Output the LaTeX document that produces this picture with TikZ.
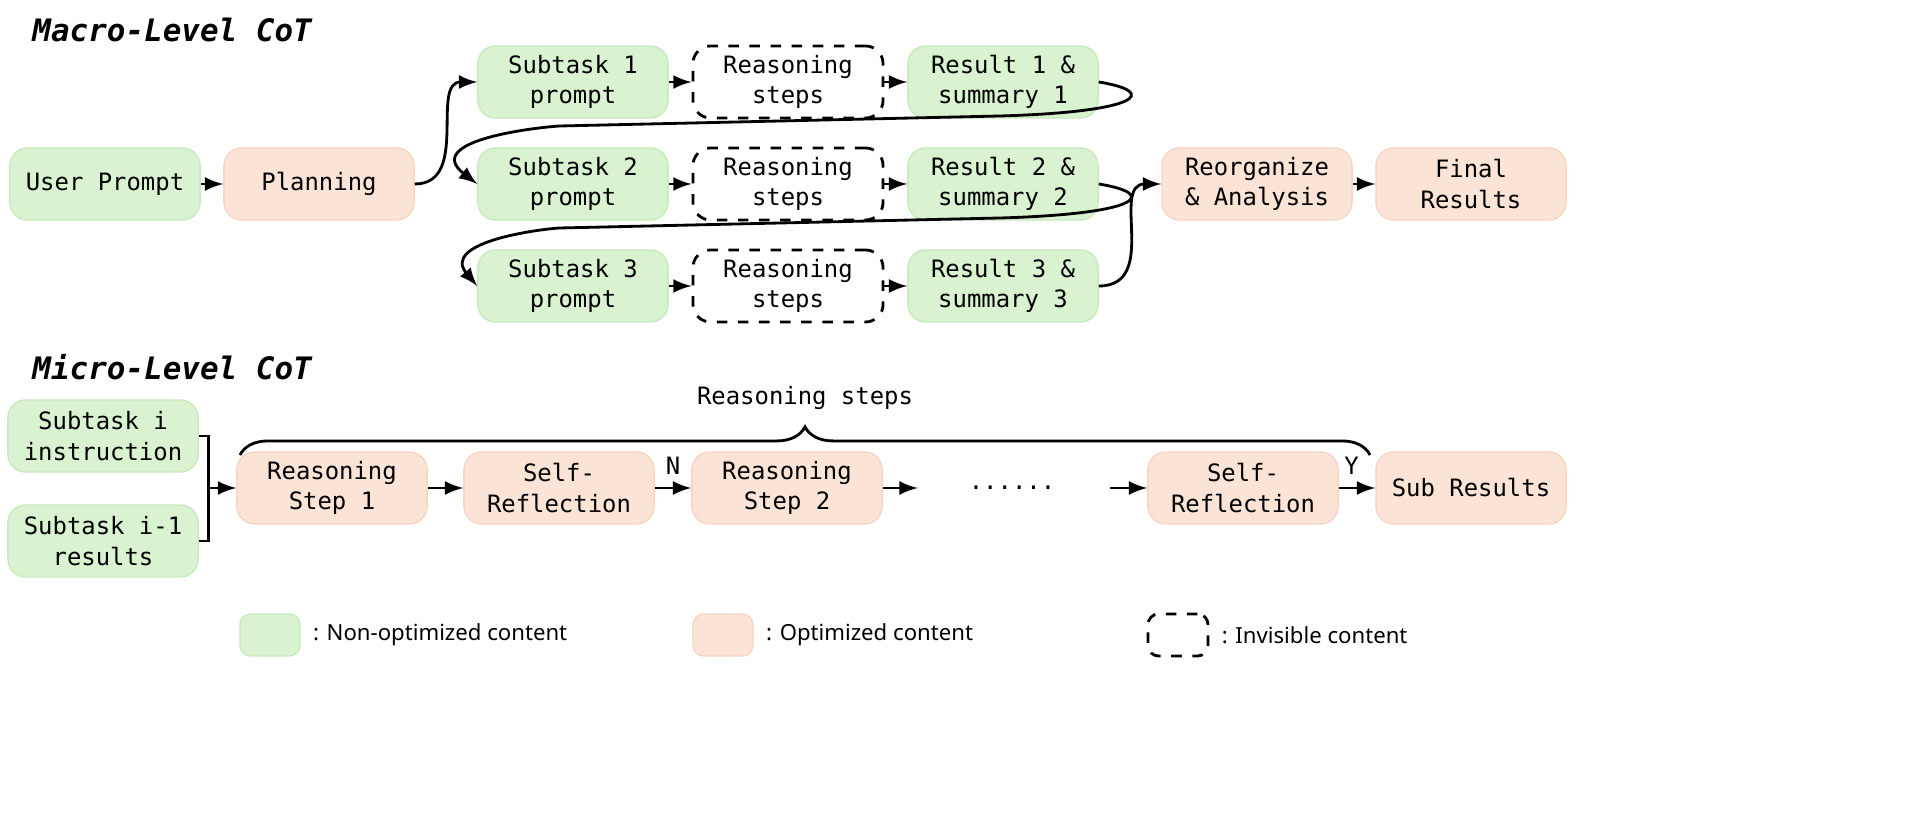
\documentclass[tikz,border=0pt]{standalone}
\usepackage{fontspec}
\setmainfont{Noto Sans}
\newfontfamily\boxfont{DejaVu Sans Mono}
\usetikzlibrary{positioning,decorations.pathreplacing}
\definecolor{nonopt}{HTML}{D9F2D0}
\definecolor{nonoptline}{HTML}{C8EABD}
\definecolor{opt}{HTML}{FBE3D6}
\definecolor{optline}{HTML}{F6D5C4}
\tikzset{
  box/.style = {rounded corners=5pt, minimum width=1.9cm, minimum height=0.72cm,
                align=center, font=\boxfont\fontsize{6.8}{8.6}\selectfont, inner sep=1pt},
  green box/.style = {box, fill=nonopt, draw=nonoptline},
  orange box/.style = {box, fill=opt, draw=optline},
  hidden box/.style = {box, draw=black, thick, dashed},
  flow/.style = {-latex, thick},
  title/.style = {anchor=west, font=\boxfont\bfseries\itshape\fontsize{8.8}{10}\selectfont},
  legend/.style = {anchor=west, font=\fontsize{6.3}{7.5}\selectfont}
}
\begin{document}
\begin{tikzpicture}[x=0.01cm, y=-0.01cm]
\useasboundingbox (0,0) rectangle (1920,813);

% macro level
\node[title] at (20,30) {Macro-Level CoT};
\node[green box] (user) at (105,184) {User Prompt};
\node[orange box] (plan) at (319,184) {Planning};

\node[green box] (sub1) at (573,82) {Subtask 1\\prompt};
\node[hidden box] (rea1) at (788,82) {Reasoning\\steps};
\node[green box] (res1) at (1003,82) {Result 1 \&\\summary 1};

\node[green box] (sub2) at (573,184) {Subtask 2\\prompt};
\node[hidden box] (rea2) at (788,184) {Reasoning\\steps};
\node[green box] (res2) at (1003,184) {Result 2 \&\\summary 2};

\node[green box] (sub3) at (573,286) {Subtask 3\\prompt};
\node[hidden box] (rea3) at (788,286) {Reasoning\\steps};
\node[green box] (res3) at (1003,286) {Result 3 \&\\summary 3};

\node[orange box] (reorg) at (1257,184) {Reorganize\\\& Analysis};
\node[orange box] (final) at (1471,184) {Final\\Results};

\draw[flow] (user) -- (plan);
\draw[flow] (plan.east) .. controls (470,184) and (430,82) .. (sub1.west);
\foreach \i in {1,2,3}{
  \draw[flow] (sub\i) -- (rea\i);
  \draw[flow] (rea\i) -- (res\i);
}
\draw[flow] (res1.east) .. controls (1160,92) and (1140,112) .. (1000,116)
  -- (560,126) .. controls (540,127) and (420,140) .. (sub2.west);
\draw[flow] (res2.east) .. controls (1160,194) and (1140,214) .. (1000,218)
  -- (560,228) .. controls (540,229) and (440,242) .. (sub3.west);
\draw[flow] (res3.east) .. controls (1160,286) and (1110,184) .. (reorg.west);
\draw[flow] (reorg) -- (final);

% micro level
\node[title] at (20,367) {Micro-Level CoT};
\node[green box] (inst) at (103,436) {Subtask i\\instruction};
\node[green box] (prev) at (103,541) {Subtask i-1\\results};
\node[orange box] (step1) at (332,488) {Reasoning\\Step 1};
\node[orange box] (refl1) at (559,488) {Self-\\Reflection};
\node[orange box] (step2) at (787,488) {Reasoning\\Step 2};
\node[box] (dots) at (1012,488) {......};
\node[orange box] (refl2) at (1243,488) {Self-\\Reflection};
\node[orange box] (subres) at (1471,488) {Sub Results};

\coordinate (join) at (255,488);
\draw[thick] (inst.east) -- ++(10,0) coordinate (jt) -- (jt |- prev.east) -- (prev.east);
\draw[flow] (jt |- join) -- (step1.west);
\draw[flow] (step1) -- (refl1);
\draw[flow] (refl1) -- node[above, font=\boxfont\fontsize{6.8}{8}\selectfont] {N} (step2);
\draw[flow] (step2.east) -- ++(35,0);
\draw[flow] (1110,488) -- (refl2.west);
\draw[flow] (refl2) -- node[above, font=\boxfont\fontsize{6.8}{8}\selectfont, pos=0.35] {Y} (subres);

\draw[thick, decorate, decoration={brace, amplitude=8pt}]
  (240,455) -- (1370,455);
\node[font=\boxfont\fontsize{6.8}{8}\selectfont] (braceLabel) at (805,398) {Reasoning steps};

% legend
\node[fill=nonopt, draw=nonoptline, rounded corners=3pt, minimum width=0.6cm, minimum height=0.42cm] (lg1) at (270,635) {};
\node[legend, right=0pt of lg1] {: Non-optimized content};
\node[fill=opt, draw=optline, rounded corners=3pt, minimum width=0.6cm, minimum height=0.42cm] (lg2) at (723,635) {};
\node[legend, right=0pt of lg2] {: Optimized content};
\node[draw, thick, dashed, rounded corners=3pt, minimum width=0.6cm, minimum height=0.42cm] (lg3) at (1178,635) {};
\node[legend, right=0pt of lg3] {: Invisible content};
\end{tikzpicture}
\end{document}
